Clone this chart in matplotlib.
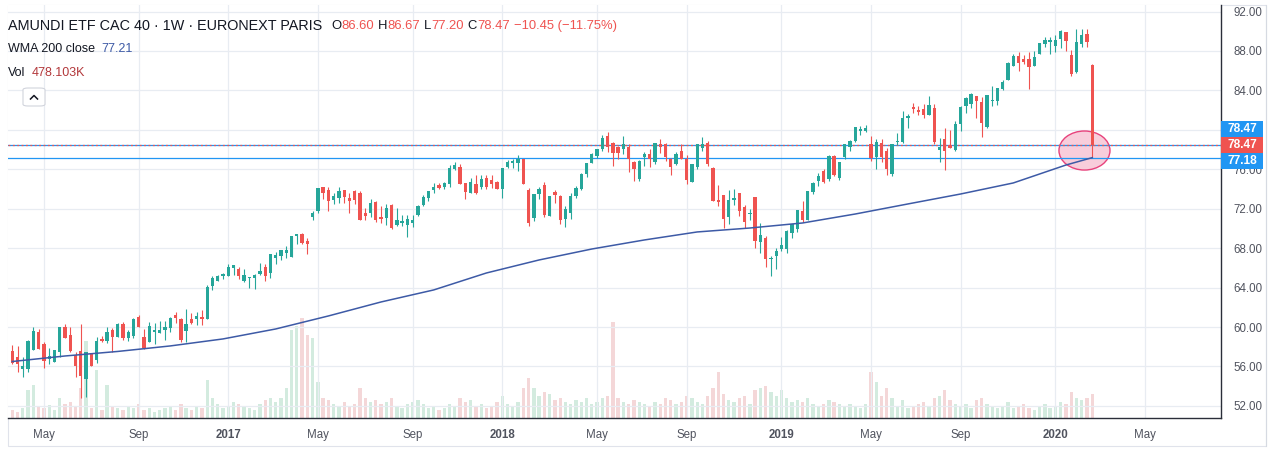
import matplotlib
matplotlib.use("Agg")
import matplotlib.pyplot as plt
import matplotlib.dates as mdates
from matplotlib.patches import Ellipse, Rectangle, FancyBboxPatch
from matplotlib.lines import Line2D
import numpy as np
import pandas as pd

# ---------------- data (weekly bars) ----------------
first_week = "2016-03-21"
n_weeks = 206

opens = [57.57, 57.00, 55.74, 55.74, 57.67, 59.46, 58.31, 56.76, 56.49, 57.50,
         59.97, 59.19, 57.16, 57.57, 54.76, 57.33, 56.66, 58.79, 58.58, 59.70,
         59.02, 60.30, 58.85, 59.12, 61.01, 58.99, 58.51, 59.53, 59.43, 59.70,
         59.87, 61.22, 60.81, 59.63, 60.81, 60.81, 61.01, 60.81, 64.19, 64.70,
         65.21, 65.21, 66.02, 65.88, 64.66, 65.00, 65.00, 65.37, 66.08, 65.51,
         67.03, 67.23, 67.54, 67.13, 69.23, 69.40, 68.72, 71.19, 71.80, 74.23,
         73.89, 72.88, 73.11, 73.89, 73.11, 73.79, 73.62, 71.59, 71.53, 72.71,
         71.19, 71.09, 72.37, 70.34, 70.51, 70.34, 70.52, 71.37, 72.38, 73.12,
         73.90, 74.41, 74.24, 74.48, 75.99, 76.20, 74.58, 73.63, 74.51, 74.24,
         75.15, 74.91, 74.75, 73.97, 76.27, 76.67, 76.67, 77.05, 73.90, 71.10,
         73.50, 74.41, 71.30, 73.73, 73.29, 70.96, 71.60, 73.29, 74.00, 75.49,
         76.61, 77.35, 78.03, 79.41, 78.63, 78.23, 78.03, 78.30, 76.71, 75.02,
         77.28, 77.55, 76.78, 78.57, 78.53, 77.05, 76.50, 77.86, 77.05, 74.75,
         76.27, 78.19, 78.63, 76.16, 72.88, 73.39, 71.19, 72.88, 73.62, 72.20,
         71.43, 73.22, 68.66, 69.06, 66.86, 67.20, 67.88, 67.91, 69.57, 69.94,
         71.76, 70.85, 73.73, 74.84, 75.82, 75.01, 77.34, 75.14, 77.21, 78.29,
         78.86, 79.88, 79.88, 78.52, 77.21, 78.69, 77.88, 75.52, 78.76, 78.73,
         81.23, 82.28, 82.01, 82.11, 81.50, 82.24, 77.95, 79.03, 78.46, 77.95,
         80.59, 82.41, 82.62, 83.43, 82.85, 80.32, 82.95, 82.95, 84.14, 85.06,
         86.51, 87.49, 87.19, 87.19, 86.51, 87.69, 88.71, 88.94, 88.54, 89.18,
         89.89, 87.59, 85.83, 88.67, 89.69, 86.60]
highs = [58.18, 58.08, 56.93, 58.68, 59.97, 59.77, 58.52, 57.84, 57.67, 59.97,
         60.31, 59.97, 57.50, 60.31, 57.50, 57.33, 59.02, 59.09, 59.97, 59.87,
         60.44, 60.47, 59.70, 60.88, 61.22, 59.76, 60.54, 60.44, 60.61, 60.61,
         61.05, 61.49, 60.88, 61.79, 61.39, 61.55, 61.72, 64.26, 65.21, 65.27,
         65.51, 66.39, 66.29, 66.08, 65.88, 65.10, 65.34, 66.52, 66.39, 67.40,
         67.64, 67.81, 68.21, 69.23, 69.40, 69.50, 68.99, 71.80, 74.13, 74.23,
         74.23, 73.62, 74.23, 73.89, 73.62, 73.89, 73.79, 72.10, 72.95, 72.81,
         72.27, 72.44, 72.47, 72.10, 71.36, 71.36, 71.37, 72.38, 73.39, 73.83,
         74.58, 74.58, 74.75, 76.44, 76.77, 76.54, 74.58, 75.08, 75.42, 75.42,
         75.42, 75.42, 74.85, 76.16, 76.94, 77.05, 77.45, 77.05, 74.07, 73.50,
         74.24, 74.68, 73.29, 73.90, 73.40, 72.28, 73.63, 74.31, 75.66, 76.67,
         77.62, 78.06, 79.48, 79.75, 78.74, 78.36, 79.38, 78.57, 76.88, 76.94,
         77.72, 78.03, 78.63, 79.07, 78.63, 77.18, 77.72, 78.53, 77.45, 76.54,
         78.53, 79.24, 78.87, 76.26, 74.40, 73.39, 73.89, 74.00, 73.62, 72.37,
         71.93, 73.22, 70.58, 69.23, 67.20, 67.98, 69.16, 69.84, 70.45, 71.87,
         72.78, 73.83, 74.74, 75.58, 75.99, 77.44, 77.44, 76.70, 78.52, 78.96,
         80.32, 80.38, 80.48, 79.37, 79.03, 79.03, 78.19, 78.52, 79.71, 81.90,
         81.57, 82.75, 82.41, 82.62, 83.43, 82.62, 79.20, 80.22, 79.98, 80.93,
         82.41, 83.36, 83.70, 83.43, 83.29, 83.53, 84.44, 84.20, 85.05, 86.92,
         87.66, 87.93, 87.59, 87.93, 88.03, 88.84, 89.45, 89.45, 89.62, 90.13,
         89.96, 88.10, 90.19, 90.19, 90.19, 86.67]
lows = [56.28, 55.47, 54.97, 55.47, 57.67, 57.77, 55.88, 56.22, 56.45, 57.00,
        58.85, 57.47, 54.97, 52.77, 52.94, 56.08, 56.39, 58.52, 58.41, 57.50,
        59.02, 58.68, 58.58, 58.85, 60.03, 57.74, 58.51, 58.28, 59.43, 58.68,
        59.53, 60.37, 58.51, 58.51, 60.30, 60.20, 60.20, 60.81, 63.75, 64.70,
        64.87, 65.21, 65.27, 64.87, 64.60, 63.99, 63.85, 65.27, 64.66, 65.00,
        66.39, 66.79, 66.96, 67.13, 68.38, 68.38, 67.40, 70.85, 71.59, 72.95,
        71.80, 72.47, 72.61, 72.61, 71.59, 72.47, 70.85, 70.85, 71.19, 70.61,
        70.51, 70.34, 69.90, 70.28, 70.24, 69.16, 70.12, 71.26, 72.28, 72.78,
        73.56, 73.97, 73.97, 74.24, 75.93, 74.48, 72.95, 73.56, 73.46, 73.97,
        73.97, 74.07, 73.97, 73.12, 76.16, 76.10, 75.86, 74.51, 70.25, 70.79,
        72.99, 71.20, 71.30, 72.62, 70.42, 70.18, 70.96, 73.12, 73.90, 75.19,
        76.61, 77.11, 77.89, 77.79, 76.37, 77.01, 77.55, 75.76, 74.85, 74.85,
        76.37, 76.27, 76.54, 77.62, 76.88, 75.42, 76.44, 77.05, 74.51, 74.75,
        76.03, 77.86, 76.37, 72.81, 72.27, 70.00, 70.45, 72.37, 71.29, 70.00,
        70.85, 68.05, 67.54, 66.12, 65.21, 65.85, 67.74, 67.54, 69.00, 69.67,
        70.68, 70.85, 73.45, 74.33, 74.64, 74.81, 75.31, 74.91, 77.00, 77.85,
        78.73, 79.47, 79.74, 76.83, 76.02, 76.77, 75.42, 75.35, 78.46, 78.63,
        80.21, 81.67, 81.50, 81.16, 81.50, 78.56, 76.77, 75.92, 78.19, 77.88,
        79.91, 81.67, 82.18, 81.16, 79.30, 80.15, 82.41, 82.52, 84.04, 85.06,
        86.51, 86.00, 86.64, 84.11, 86.51, 87.69, 88.44, 87.66, 87.86, 88.27,
        88.03, 85.46, 85.73, 88.44, 88.44, 77.20]
closes = [56.39, 56.22, 56.05, 58.58, 59.60, 57.77, 56.59, 57.10, 57.67, 59.97,
          58.92, 57.57, 56.08, 55.03, 57.43, 56.08, 58.58, 58.58, 59.46, 59.02,
          60.30, 58.92, 59.49, 60.81, 60.03, 57.84, 60.10, 59.70, 59.70, 60.03,
          60.88, 60.95, 58.68, 60.30, 60.44, 61.12, 60.81, 64.02, 64.94, 65.17,
          65.34, 66.08, 66.29, 65.21, 65.27, 65.10, 65.27, 65.68, 65.21, 67.40,
          67.30, 67.81, 67.81, 69.23, 69.40, 68.55, 68.42, 71.59, 74.13, 73.62,
          72.81, 73.28, 73.79, 73.22, 72.81, 72.88, 70.85, 71.26, 72.61, 70.85,
          70.95, 72.10, 70.00, 70.85, 70.78, 70.92, 70.86, 72.28, 73.22, 73.83,
          74.24, 74.14, 74.58, 76.16, 76.44, 74.48, 73.73, 74.68, 73.63, 74.98,
          74.24, 74.51, 73.97, 76.16, 76.77, 76.88, 77.01, 74.51, 70.59, 73.50,
          74.00, 71.37, 73.29, 73.40, 70.86, 71.94, 73.29, 74.07, 75.52, 76.67,
          77.52, 78.06, 79.14, 78.30, 77.69, 77.62, 78.57, 77.01, 76.03, 76.84,
          77.55, 77.05, 78.63, 78.23, 77.28, 76.27, 77.55, 77.05, 74.92, 76.54,
          78.53, 78.57, 76.54, 72.81, 72.71, 70.95, 72.88, 73.12, 71.76, 70.68,
          71.60, 68.76, 69.33, 66.90, 66.97, 67.74, 68.32, 69.74, 70.45, 71.87,
          70.85, 73.83, 74.64, 75.31, 74.74, 77.34, 75.42, 76.70, 78.52, 78.86,
          80.25, 80.08, 80.15, 77.10, 78.79, 77.21, 76.02, 78.52, 78.90, 81.16,
          81.43, 82.11, 81.84, 81.50, 82.52, 78.73, 78.29, 77.88, 78.19, 80.59,
          82.28, 83.19, 83.60, 82.95, 80.72, 83.53, 83.02, 84.20, 84.81, 86.81,
          87.52, 86.75, 86.92, 86.41, 87.42, 88.77, 89.11, 89.11, 89.11, 90.06,
          89.01, 85.63, 88.94, 89.62, 88.94, 78.47]
volumes_k = [160, 120, 200, 560, 660, 240, 200, 260, 160, 400,
             280, 320, 240, 600, 1540, 200, 960, 160, 660, 240,
             200, 160, 240, 200, 280, 160, 200, 120, 160, 200,
             240, 160, 280, 200, 160, 240, 200, 760, 400, 280,
             200, 240, 320, 280, 240, 200, 160, 280, 360, 400,
             320, 400, 600, 1760, 1840, 2000, 1660, 1600, 720, 400,
             360, 280, 240, 320, 240, 280, 600, 400, 320, 360,
             280, 320, 400, 240, 200, 280, 320, 360, 280, 200,
             240, 160, 200, 280, 240, 400, 320, 360, 240, 280,
             200, 240, 320, 440, 280, 240, 320, 600, 800, 600,
             440, 520, 480, 360, 400, 320, 280, 360, 320, 400,
             280, 320, 400, 440, 1920, 400, 320, 280, 360, 320,
             280, 240, 320, 280, 400, 360, 280, 320, 440, 400,
             320, 280, 440, 600, 920, 480, 360, 320, 400, 440,
             280, 560, 600, 640, 520, 440, 560, 400, 320, 360,
             320, 400, 280, 240, 280, 360, 320, 280, 240, 280,
             240, 200, 280, 920, 720, 440, 600, 400, 240, 360,
             200, 240, 280, 320, 240, 400, 440, 560, 360, 280,
             240, 280, 200, 360, 400, 280, 240, 200, 240, 320,
             200, 240, 280, 200, 160, 240, 280, 200, 240, 320,
             280, 520, 400, 360, 400, 478]

# WMA 200 (close) at every 10th bar
wma_bar = [0, 10, 20, 30, 40, 50, 60, 70, 80, 90, 100,
           110, 120, 130, 140, 150, 160, 170, 180, 190, 200, 205]
wma_vals = [56.50, 57.06, 57.52, 58.08, 58.79, 59.80, 61.12, 62.54, 63.76, 65.48, 66.80,
            67.91, 68.83, 69.64, 70.04, 70.55, 71.46, 72.48, 73.49, 74.61, 76.43, 77.18]

tick_months = ["2016-05", "2016-09", "2017-01", "2017-05", "2017-09", "2018-01",
               "2018-05", "2018-09", "2019-01", "2019-05", "2019-09", "2020-01", "2020-05"]
tick_labels = ["May", "Sep", "2017", "May", "Sep", "2018",
               "May", "Sep", "2019", "May", "Sep", "2020", "May"]
price_ticks = [52, 56, 60, 64, 68, 72, 76, 80, 84, 88, 92]
price_tick_labels = ["52.00", "56.00", "60.00", "64.00", "68.00", "72.00",
                     "76.00", "", "84.00", "88.00", "92.00"]

last_price = 78.47
line_price = 77.18
header_title = "AMUNDI ETF CAC 40 \u00b7 1W \u00b7 EURONEXT PARIS"
hdr_o, hdr_h, hdr_l, hdr_c = "86.60", "86.67", "77.20", "78.47"
hdr_chg = "\u221210.45 (\u221211.75%)"
wma_label, wma_value = "WMA 200 close", "77.21"
vol_label, vol_value = "Vol", "478.103K"

# ---------------- style ----------------
GREEN = "#26a69a"
RED = "#ef5350"
VGREEN = "#d3ebdf"
VRED = "#f4d7d8"
BLUE = "#2196f3"
WMA_C = "#3d5aa6"
GRID = "#e8ecf2"
TXT = "#131722"
AX_TXT = "#50535e"
FONT = ["Liberation Sans", "DejaVu Sans"]
plt.rcParams["font.family"] = FONT

W, H = 1276, 451
fig = plt.figure(figsize=(W / 100, H / 100), dpi=100)
fig.patch.set_facecolor("white")


def fx(px):
    return px / W


def fy(py):
    return 1 - py / H


L, R, T, B = 8, 1221, 5, 418
rect = [fx(L), fy(B), fx(R) - fx(L), fy(T) - fy(B)]

dates = pd.date_range(first_week, periods=n_weeks, freq="W-MON")
x = mdates.date2num(dates.to_pydatetime())
o = np.array(opens)
h = np.array(highs)
lo = np.array(lows)
c = np.array(closes)
up = c >= o
cols = np.where(up, GREEN, RED)

x0 = x[0] - 5.7
x1 = x[0] + 1606

# volume axes (below)
axv = fig.add_axes(rect, zorder=1)
axv.set_facecolor("white")
axv.bar(x, volumes_k, width=4.4, color=np.where(up, VGREEN, VRED), linewidth=0)
axv.set_ylim(0, 8260)
axv.set_xlim(x0, x1)
axv.set_xticks([])
axv.set_yticks([])
for s in axv.spines.values():
    s.set_visible(False)

# price axes (on top)
ax = fig.add_axes(rect, zorder=2)
ax.set_facecolor("none")
ax.set_xlim(x0, x1)
ax.set_ylim(50.77, 92.66)

ax.vlines(x, lo, h, colors=cols, lw=0.8, zorder=4)
body_b = np.minimum(o, c)
body_h = np.maximum(np.abs(c - o), 0.06)
ax.bar(x, body_h, bottom=body_b, width=4.4, color=cols, linewidth=0, zorder=5)

wx = x[np.array(wma_bar)]
ax.plot(wx, wma_vals, color=WMA_C, lw=1.1, zorder=6)

ax.axhline(last_price, color=BLUE, lw=0.9, zorder=3)
ax.axhline(last_price, color=RED, lw=0.9, ls=(0, (1.5, 2)), zorder=3.1)
ax.axhline(line_price, color=BLUE, lw=0.9, zorder=3)

# highlight ellipse
ell = Ellipse((x[-1] - 10.4, 77.90), 67.8, 3.96, facecolor="#f8cddb",
              edgecolor="#e8427c", lw=1.0, zorder=2.5)
ax.add_patch(ell)

# axes styling
ax.yaxis.tick_right()
ax.set_yticks(price_ticks)
ax.set_yticklabels(price_tick_labels)
ax.tick_params(axis="y", length=0, pad=9, labelsize=8.3, labelcolor=AX_TXT)

tick_pos = []
for m in tick_months:
    d = pd.Timestamp(m + "-01")
    d = d + pd.Timedelta(days=(7 - d.weekday()) % 7)
    tick_pos.append(mdates.date2num(d.to_pydatetime()))
ax.set_xticks(tick_pos)
ax.set_xticklabels(tick_labels)
for lab, txt in zip(ax.get_xticklabels(), tick_labels):
    if txt.isdigit():
        lab.set_fontweight("bold")
ax.tick_params(axis="x", length=0, pad=8, labelsize=8.3, labelcolor=AX_TXT)
ax.grid(True, color=GRID, lw=0.9, zorder=0)
ax.set_axisbelow(True)
for side in ["top", "left"]:
    ax.spines[side].set_visible(False)
ax.spines["right"].set_color("#2a2e39")
ax.spines["bottom"].set_color("#2a2e39")
ax.spines["right"].set_linewidth(1)
ax.spines["bottom"].set_linewidth(1)

# outer border
fig.add_artist(Rectangle((fx(8), fy(446)), fx(1266) - fx(8), fy(5) - fy(446),
                         fill=False, edgecolor="#e0e3eb", lw=0.8,
                         transform=fig.transFigure))
fig.add_artist(Line2D([fx(1266), fx(1266)], [fy(5), fy(446)], color="#d6dae2",
                      lw=0.8, transform=fig.transFigure))

# price labels on the scale
fig.canvas.draw()
y_last = ax.transData.transform((x0, last_price))[1]
y_last_px = H - y_last
labels = [(y_last_px - 16, BLUE, "78.47"), (y_last_px, RED, "78.47"),
          (y_last_px + 16.5, BLUE, "77.18")]
for cy, colr, txt in labels:
    fig.add_artist(Rectangle((fx(1221), fy(cy + 8)), fx(1263) - fx(1221), fy(cy - 8) - fy(cy + 8),
                             facecolor=colr, edgecolor="none", transform=fig.transFigure,
                             zorder=10))
    fig.text(fx(1242), fy(cy), txt, color="white", fontsize=8.6, fontweight="bold",
             ha="center", va="center", zorder=11)

# header
renderer = fig.canvas.get_renderer()


def seq_text(x_px, y_px, parts):
    xx = x_px
    for s, colr, gap, size in parts:
        xx += gap
        t = fig.text(fx(xx), fy(y_px), s, color=colr, fontsize=size, ha="left",
                     va="center", zorder=12)
        xx += t.get_window_extent(renderer).width


seq_text(8, 26, [(header_title, TXT, 0, 10.4), ("O", TXT, 9, 9.4), (hdr_o, RED, 0, 9.4),
                 ("H", TXT, 4, 9.4), (hdr_h, RED, 0, 9.4), ("L", TXT, 4, 9.4),
                 (hdr_l, RED, 0, 9.4), ("C", TXT, 4, 9.4), (hdr_c, RED, 0, 9.4),
                 (hdr_chg, RED, 4, 9.4)])
seq_text(8, 49, [(wma_label, TXT, 0, 9.0), (wma_value, "#3d5aa6", 6, 9.0)])
seq_text(8, 73, [(vol_label, TXT, 0, 9.0), (vol_value, "#b2373a", 6, 9.0)])

box = FancyBboxPatch((fx(23), fy(106)), fx(45) - fx(23), fy(88) - fy(106),
                     boxstyle="round,pad=0,rounding_size=0.004", facecolor="white",
                     edgecolor="#d1d4dc", lw=0.8, transform=fig.transFigure, zorder=12)
fig.add_artist(box)
fig.add_artist(Line2D([fx(30.5), fx(34), fx(37.5)], [fy(99), fy(95.5), fy(99)],
                      color=TXT, lw=1.1, transform=fig.transFigure, zorder=13))

fig.savefig("out.png", dpi=100)
